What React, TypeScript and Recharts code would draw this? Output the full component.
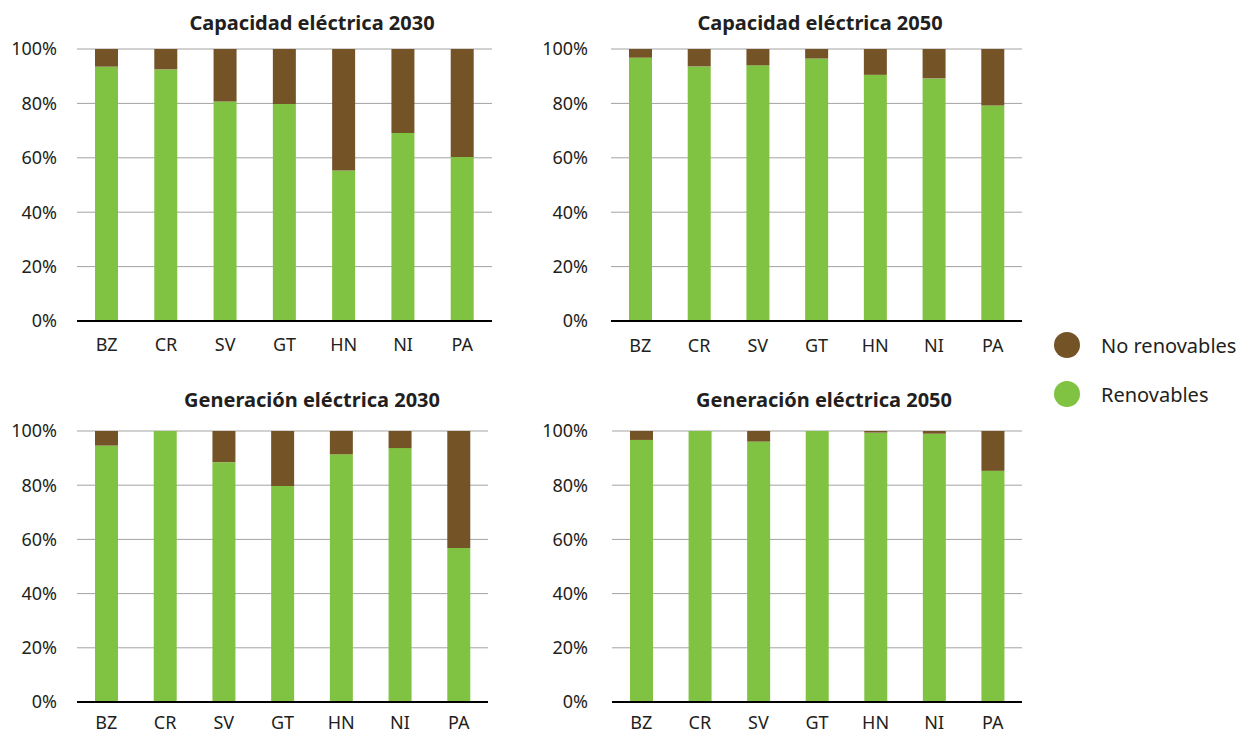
import React from 'react';
import { BarChart, Bar, XAxis, YAxis, CartesianGrid } from 'recharts';

// Shares (%)
const countries = ['BZ', 'CR', 'SV', 'GT', 'HN', 'NI', 'PA'];

const capRen2030 = [93.5, 92.5, 80.7, 79.8, 55.3, 69.1, 60.3];
const capNoRen2030 = [6.5, 7.5, 19.3, 20.2, 44.7, 30.9, 39.7];

const capRen2050 = [96.8, 93.6, 94.0, 96.5, 90.5, 89.2, 79.2];
const capNoRen2050 = [3.2, 6.4, 6.0, 3.5, 9.5, 10.8, 20.8];

const genRen2030 = [94.6, 100, 88.5, 79.7, 91.4, 93.7, 56.8];
const genNoRen2030 = [5.4, 0, 11.5, 20.3, 8.6, 6.3, 43.2];

const genRen2050 = [96.7, 100, 96.1, 100, 99.4, 99.0, 85.3];
const genNoRen2050 = [3.3, 0, 3.9, 0, 0.6, 1.0, 14.7];

const yTicks = [0, 20, 40, 60, 80, 100];

const GREEN = '#80c242';
const BROWN = '#745327';
const TEXT = '#231f20';
const FONT = '"Noto Sans", sans-serif';

const buildRows = (ren: number[], noRen: number[]) =>
  countries.map((c, i) => ({ country: c, renovables: ren[i], noRenovables: noRen[i] }));

interface PanelProps {
  title: string;
  ren: number[];
  noRen: number[];
  left: number;
  top: number;
  width: number;
  height: number;
  yWidth: number;
  marginTop: number;
  marginRight: number;
  xHeight: number;
  yTickMargin: number;
  xTickMargin: number;
  titleX: number;
  titleY: number;
}

const Panel: React.FC<PanelProps> = (p) => {
  const data = buildRows(p.ren, p.noRen);
  return (
    <>
      <div
        style={{
          position: 'absolute',
          left: p.titleX - 200,
          top: p.titleY,
          width: 400,
          textAlign: 'center',
          fontSize: 20,
          lineHeight: '20px',
          fontWeight: 700,
          color: TEXT,
          whiteSpace: 'nowrap',
        }}
      >
        {p.title}
      </div>
      <div style={{ position: 'absolute', left: p.left, top: p.top }}>
        <BarChart
          width={p.width}
          height={p.height}
          data={data}
          margin={{ top: p.marginTop, right: p.marginRight, left: 0, bottom: 0 }}
        >
          <CartesianGrid vertical={false} stroke="#a3a3a3" strokeWidth={1} />
          <XAxis
            dataKey="country"
            interval={0}
            height={p.xHeight}
            tickLine={false}
            tickMargin={p.xTickMargin}
            axisLine={{ stroke: '#000', strokeWidth: 2 }}
            tick={{ fill: TEXT, fontSize: 18, fontFamily: FONT }}
          />
          <YAxis
            width={p.yWidth}
            domain={[0, 100]}
            ticks={yTicks}
            interval={0}
            axisLine={false}
            tickLine={false}
            tickMargin={p.yTickMargin}
            tickFormatter={(v) => `${v}%`}
            tick={{ fill: TEXT, fontSize: 18, fontFamily: FONT }}
          />
          <Bar dataKey="renovables" stackId="a" fill={GREEN} barSize={23} isAnimationActive={false} />
          <Bar dataKey="noRenovables" stackId="a" fill={BROWN} barSize={23} isAnimationActive={false} />
        </BarChart>
      </div>
    </>
  );
};

const LegendItem: React.FC<{ color: string; label: string; y: number }> = ({ color, label, y }) => (
  <div style={{ position: 'absolute', left: 1054, top: y - 13, height: 26, display: 'flex', alignItems: 'center' }}>
    <span style={{ width: 26, height: 26, borderRadius: '50%', background: color, display: 'inline-block' }} />
    <span style={{ marginLeft: 21, fontSize: 20, color: TEXT, whiteSpace: 'nowrap' }}>{label}</span>
  </div>
);

export default function App() {
  return (
    <div
      style={{
        position: 'absolute',
        left: 0,
        top: 0,
        width: 1237,
        height: 735,
        background: '#fff',
        fontFamily: FONT,
        overflow: 'hidden',
      }}
    >
      <Panel
        title="Capacidad eléctrica 2030"
        ren={capRen2030}
        noRen={capNoRen2030}
        left={0}
        top={0}
        width={500}
        height={370}
        yWidth={77}
        marginTop={49}
        marginRight={8}
        xHeight={49}
        yTickMargin={14}
        xTickMargin={11}
        titleX={312}
        titleY={13}
      />
      <Panel
        title="Capacidad eléctrica 2050"
        ren={capRen2050}
        noRen={capNoRen2050}
        left={520}
        top={0}
        width={510}
        height={370}
        yWidth={91}
        marginTop={49}
        marginRight={8}
        xHeight={49}
        yTickMargin={17}
        xTickMargin={12}
        titleX={820}
        titleY={13}
      />
      <Panel
        title="Generación eléctrica 2030"
        ren={genRen2030}
        noRen={genNoRen2030}
        left={0}
        top={380}
        width={500}
        height={355}
        yWidth={77}
        marginTop={51}
        marginRight={12}
        xHeight={33}
        yTickMargin={14}
        xTickMargin={8}
        titleX={312}
        titleY={390}
      />
      <Panel
        title="Generación eléctrica 2050"
        ren={genRen2050}
        noRen={genNoRen2050}
        left={520}
        top={380}
        width={510}
        height={355}
        yWidth={92}
        marginTop={51}
        marginRight={8}
        xHeight={33}
        yTickMargin={18}
        xTickMargin={8}
        titleX={824}
        titleY={390}
      />
      <LegendItem color={BROWN} label="No renovables" y={345} />
      <LegendItem color={GREEN} label="Renovables" y={394} />
    </div>
  );
}
